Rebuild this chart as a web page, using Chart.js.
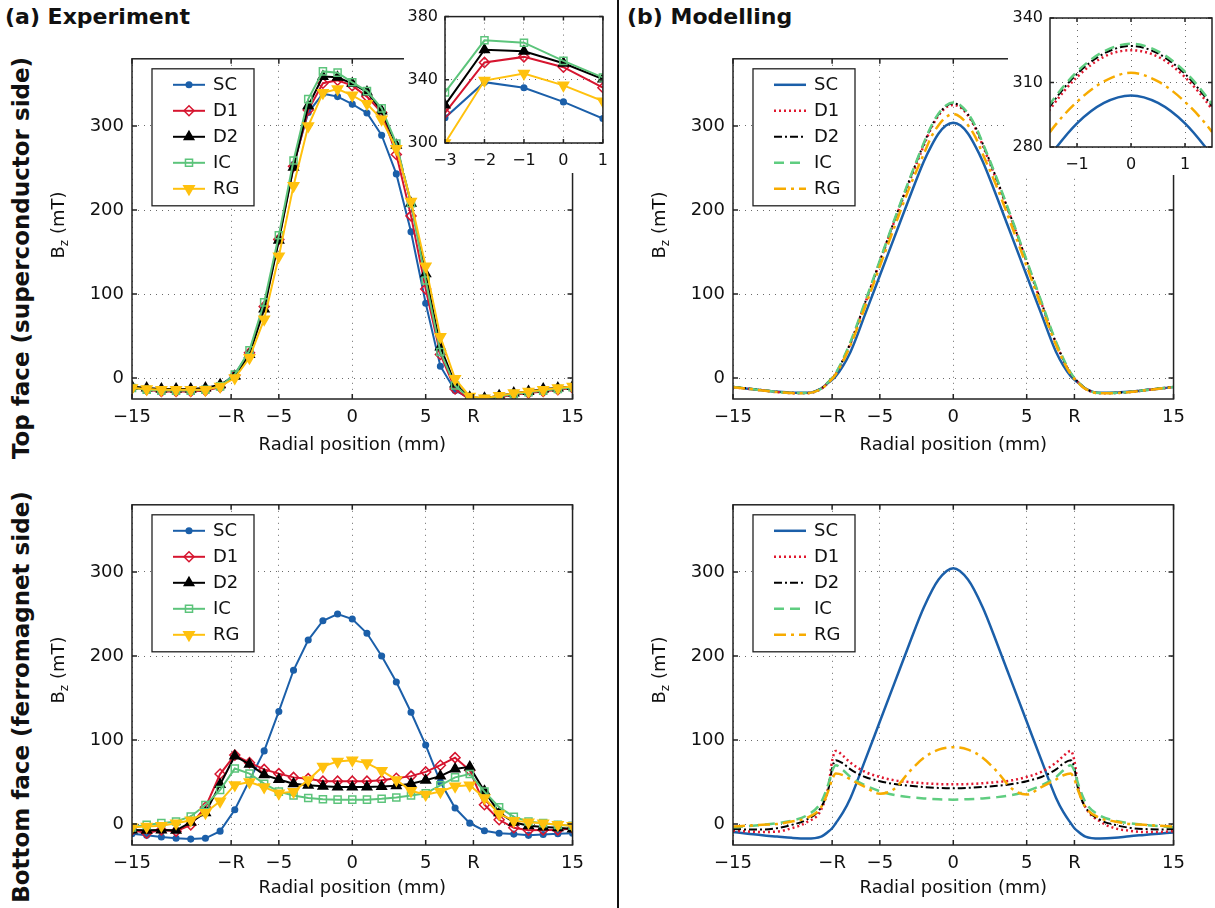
<!DOCTYPE html>
<html>
<head>
<meta charset="utf-8">
<title>Bz radial profiles</title>
<script src="https://cdn.jsdelivr.net/npm/chart.js@4.4.1/dist/chart.umd.min.js"></script>
<style>
  body { margin: 0; background: #fff; }
  #fig { position: relative; width: 1215px; height: 908px; overflow: hidden; background: #fff;
         font-family: "DejaVu Sans", Verdana, sans-serif; color: #111; }
  #fig canvas { position: absolute; }
  .lbl { position: absolute; white-space: nowrap; line-height: 1; }
  .rot { transform: translate(-50%, -50%) rotate(-90deg); }
  .ttl { font-weight: bold; font-size: 22px; }
  .row { font-size: 23px; }
  .bz { font-size: 18px; }
  .bz sub { font-size: 12px; vertical-align: -4px; }
  #divider { position: absolute; left: 617px; top: 0; width: 2px; height: 908px; background: #111; }
</style>
</head>
<body>
<div id="fig">
  <canvas id="expTop" width="530" height="430" style="left:62px;top:40px"></canvas>
  <canvas id="expBot" width="530" height="430" style="left:62px;top:486px"></canvas>
  <canvas id="modTop" width="530" height="430" style="left:663px;top:40px"></canvas>
  <canvas id="modBot" width="530" height="430" style="left:663px;top:486px"></canvas>
  <canvas id="expInset" width="212" height="173" style="left:404px;top:0px"></canvas>
  <canvas id="modInset" width="207" height="175" style="left:1008px;top:0px"></canvas>

  <div class="lbl ttl" style="left:5px;top:6px">(a) Experiment</div>
  <div class="lbl ttl" style="left:627px;top:6px">(b) Modelling</div>
  <div class="lbl ttl row rot" style="left:21px;top:258px">Top face (superconductor side)</div>
  <div class="lbl ttl row rot" style="left:21px;top:697px">Bottom face (ferromagnet side)</div>
  <div class="lbl bz rot" style="left:59px;top:225px">B<sub>z</sub> (mT)</div>
  <div class="lbl bz rot" style="left:59px;top:670px">B<sub>z</sub> (mT)</div>
  <div class="lbl bz rot" style="left:660px;top:225px">B<sub>z</sub> (mT)</div>
  <div class="lbl bz rot" style="left:660px;top:670px">B<sub>z</sub> (mT)</div>
  <div id="divider"></div>
</div>

<script>
Chart.defaults.font.family = '"DejaVu Sans", Verdana, sans-serif';
Chart.defaults.color = '#111';

// axes
const R = 8.25;
const radialTicks = [-15, -R, -5, 0, 5, R, 15];
const radialLabels = ['\u221215', '\u2212R', '\u22125', '0', '5', 'R', '15'];
const bzTicks = [0, 100, 200, 300];
const expZoomX = [-3, -2, -1, 0, 1];
const expZoomXLabels = ['\u22123', '\u22122', '\u22121', '0', '1'];
const expZoomY = [300, 340, 380];
const modZoomX = [-1, 0, 1];
const modZoomXLabels = ['\u22121', '0', '1'];
const modZoomY = [280, 310, 340];

const names = ['SC', 'D1', 'D2', 'IC', 'RG'];

// measured (1 mm steps)
const posExp = [-15, -14, -13, -12, -11, -10, -9, -8, -7, -6, -5, -4, -3, -2, -1, 0,
                1, 2, 3, 4, 5, 6, 7, 8, 9, 10, 11, 12, 13, 14, 15];

const expTopSC = [-11, -13, -14, -14, -15, -14, -10, 5, 30, 85, 166, 254, 316, 338.5, 335, 326,
                  315.5, 289, 243, 174, 89, 14, -15, -24, -25, -22, -19, -17, -15, -13, -11];
const expTopD1 = [-12, -14, -16, -16, -16, -15, -11, 3, 30, 85, 165, 252, 319, 351, 354.5, 348,
                  335, 316, 266, 193, 106, 28, -13, -26, -26, -23, -20, -18, -16, -14, -12];
const expTopD2 = [-10, -12, -13, -13, -13, -12, -8, 2, 28, 82, 164, 251, 324, 359, 358, 350.5,
                  340.5, 318, 277, 208, 124, 37, -7, -23, -24, -21, -18, -16, -13, -12, -10];
const expTopIC = [-12, -14, -15, -15, -15, -14, -10, 4, 33, 90, 170, 259, 332, 365, 363.5, 352,
                  341.5, 321, 279, 208, 116, 31, -9, -24, -25, -22, -19, -17, -15, -13, -11];
const expTopRG = [-12, -13, -14, -14, -14, -14, -10, 0, 24, 70, 145, 229, 300, 339.5, 344, 336.5,
                  326.5, 308, 273, 210, 133, 49, -1, -22, -24, -21, -18, -16, -14, -12, -10];

const expBotSC = [-11.5, -13.5, -15.5, -17, -18, -17, -8.5, 17, null, 87, 134, 183, 219, 242, 250, 244,
                  227, 200, 169, 133, 94, 50, 19, 1, -8, -11, -12, -13.5, -12.5, -11.5, -11];
const expBotD1 = [-7, -11, -7, -8.5, -1, 20, 59.5, 82, 73, 65, 60, 55.5, 54, 51, 51, 51,
                  51, 52, 54.5, 57, 62, 70, 79, 64, 23, 5, -4.5, -7.5, -7, -7, -5];
const expBotD2 = [-7, -7.5, -7, -7.5, 2, 13.5, 47, 81, 71, 58.5, 53, 48, 46, 45, 44, 44,
                  44, 44.5, 45.5, 48, 52, 57, 65.5, 68, 39, 13.5, 2, -2, -3.5, -4.5, -6];
const expBotIC = [-4, -1, 1, 3, 9, 22.5, 40.5, 66, 60, 48, 38.5, 34, 31, 29.5, 29, 29,
                  29, 30, 31.5, 34, 36.5, 46, 55.5, 59.5, 38.5, 20, 8.5, 3, 1, -1, -2];
const expBotRG = [-4, -3, -2, 1, 4.5, 13.5, 27, 46.5, 50, 44, 36.5, 38.5, 52.5, 68.5, 74.5, 76,
                  72.5, 63.5, 52.5, 39.5, 35, 38.5, 45, 46, 31, 12, 4, 2, 1, -1, -2];

// modelled, top face
const posModTop = [-15, -14, -13, -12, -11, -10, -9, -8.5, -8, -7, -6, -5, -4, -3, -2,
                   -1.5, -1, -0.5, 0, 0.5, 1, 1.5, 2, 3, 4, 5, 6, 7, 8, 8.5,
                   9, 10, 11, 12, 13, 14, 15];
const modTopSC = [-10.8, -12.7, -14.6, -16.3, -17.5, -17.7, -12.5, -5.5, 2, 31, 76, 122, 168, 214, 258,
                  276, 291, 300.5, 304, 300.5, 291, 276, 258, 214, 168, 122, 76, 31, 2, -5.5,
                  -12.5, -17.7, -17.5, -16.3, -14.6, -12.7, -10.8];
const modTopD1 = [-11, -12.7, -14.8, -16.8, -18, -18.2, -13, -5, 5, 41, 89, 138, 187, 233, 277,
                  297.5, 312.5, 322, 325, 322, 312.5, 297.5, 277, 233, 187, 138, 89, 41, 5, -5,
                  -13, -18.2, -18, -16.8, -14.8, -12.7, -11];
const modTopD2 = [-10.5, -12.3, -14.4, -16.4, -17.6, -17.8, -12.5, -4.5, 5.5, 42, 90, 139, 188, 235, 279,
                  299, 314, 323.5, 327, 323.5, 314, 299, 279, 235, 188, 139, 90, 42, 5.5, -4.5,
                  -12.5, -17.8, -17.6, -16.4, -14.4, -12.3, -10.5];
const modTopIC = [-10.8, -12.6, -14.6, -16.6, -17.8, -18, -12.8, -4.5, 6, 43, 91, 140, 189, 236, 280,
                  300, 315, 324.5, 328, 324.5, 315, 300, 280, 236, 189, 140, 91, 43, 6, -4.5,
                  -12.8, -18, -17.8, -16.6, -14.6, -12.6, -10.8];
const modTopRG = [-11, -12.8, -14.8, -16.8, -18, -18.2, -13, -5.5, 4.5, 39, 85, 133, 180, 226, 267,
                  287, 301, 310.5, 314.5, 310.5, 301, 287, 267, 226, 180, 133, 85, 39, 4.5, -5.5,
                  -13, -18.2, -18, -16.8, -14.8, -12.8, -11];

// modelled, bottom face
const posModBot = [-15, -14, -13, -12, -11, -10, -9, -8.5, -8.25, -8, -7.5, -7,
                   -6, -5, -4, -3, -2, -1, 0, 1, 2, 3, 4, 5, 6,
                   7, 7.5, 8, 8.25, 8.5, 9, 10, 11, 12, 13, 14, 15];
const modBotSC = [-9.6, -11.5, -13.5, -15, -16.5, -17.3, -15, -9, -5, 1, 14, 31,
                  76, 122, 168, 214, 258, 291, 304.5, 291, 258, 214, 168, 122, 76,
                  31, 14, 1, -5, -9, -15, -17.3, -16.5, -14.5, -13, -11.5, -10];
const modBotD1 = [-8, -9, -9.5, -9, -5, 2, 17, 45, 75, 87, 81, 73,
                  62, 56, 52, 50, 48.5, 47.5, 47.3, 47.5, 48.5, 50, 52, 56, 62,
                  73, 81, 87, 75, 45, 20, 3, -5, -8, -9.5, -9.5, -8.5];
const modBotD2 = [-6, -6.5, -6.5, -5, -1, 5, 20, 42, 66, 76, 72, 65,
                  56, 51, 47.5, 45.5, 44, 43, 42.5, 43, 44, 45.5, 47.5, 51, 56,
                  65, 72, 76, 66, 42, 20, 5, -1, -4.5, -6, -6.5, -6];
const modBotIC = [-4, -2.5, -1, 1, 4, 10, 26, 48, 63, 70, 64, 56,
                  46, 39, 34.5, 32, 30.5, 29.5, 29, 29.5, 30.5, 32, 34.5, 39, 46,
                  56, 64, 70, 63, 48, 26, 10, 4, 1, -1, -2.5, -4];
const modBotRG = [-3, -2, -1, 0, 3, 7, 20, 40, 53, 60, 58, 53,
                  44, 36, 42, 62, 79, 88.5, 91.5, 88.5, 79, 62, 42, 35, 44,
                  53, 58, 60, 53, 40, 20, 7, 3, 0, -1, -2, -3];

// ---- plugins ----
const whiteBg = {
  id: 'whiteBg',
  beforeDraw(chart) {
    const c = chart.ctx;
    c.save();
    c.fillStyle = '#fff';
    c.fillRect(0, 0, chart.width, chart.height);
    c.restore();
  }
};

// axes box with inward ticks, like the original figure
const frame = {
  id: 'frame',
  afterDraw(chart, args, opts) {
    const { ctx, chartArea: a } = chart;
    const x = chart.scales.x, y = chart.scales.y;
    const t = opts.tick || 5;
    ctx.save();
    ctx.strokeStyle = '#222';
    ctx.lineWidth = 1.5;
    ctx.beginPath();
    x.ticks.forEach(k => {
      const p = x.getPixelForValue(k.value);
      ctx.moveTo(p, a.bottom); ctx.lineTo(p, a.bottom - t);
      ctx.moveTo(p, a.top); ctx.lineTo(p, a.top + t);
    });
    y.ticks.forEach(k => {
      const p = y.getPixelForValue(k.value);
      ctx.moveTo(a.left, p); ctx.lineTo(a.left + t, p);
      ctx.moveTo(a.right, p); ctx.lineTo(a.right - t, p);
    });
    ctx.stroke();
    ctx.strokeRect(a.left, a.top, a.right - a.left, a.bottom - a.top);
    ctx.restore();
  }
};

// boxed legend: line sample + marker + name
const boxLegend = {
  id: 'boxLegend',
  afterDraw(chart) {
    const { ctx, chartArea: a } = chart;
    const bx = a.left + 20, by = a.top + 10, w = 102, h = 137;
    ctx.save();
    ctx.fillStyle = '#fff';
    ctx.fillRect(bx, by, w, h);
    ctx.strokeStyle = '#222';
    ctx.lineWidth = 1.3;
    ctx.strokeRect(bx, by, w, h);
    ctx.font = '18px "DejaVu Sans", Verdana, sans-serif';
    ctx.textBaseline = 'middle';
    ctx.textAlign = 'left';
    chart.data.datasets.forEach((ds, i) => {
      const yy = by + 16 + i * 26;
      ctx.save();
      ctx.strokeStyle = ds.borderColor;
      ctx.lineWidth = ds.borderWidth;
      ctx.setLineDash(ds.borderDash || []);
      ctx.beginPath();
      ctx.moveTo(bx + 21, yy);
      ctx.lineTo(bx + 53, yy);
      ctx.stroke();
      ctx.restore();
      if (ds.pointRadius > 0) {
        ctx.save();
        ctx.fillStyle = ds.pointBackgroundColor;
        ctx.strokeStyle = ds.pointBorderColor;
        ctx.lineWidth = ds.pointBorderWidth;
        Chart.helpers.drawPoint(ctx, {
          pointStyle: ds.pointStyle, radius: ds.pointRadius,
          rotation: ds.pointRotation || 0, borderWidth: ds.pointBorderWidth
        }, bx + 37, yy);
        ctx.restore();
      }
      ctx.fillStyle = '#111';
      ctx.fillText(ds.label, bx + 61, yy + 1);
    });
    ctx.restore();
  }
};

Chart.register(whiteBg, frame, boxLegend);

// ---- datasets ----
const expColors = ['#1b5fa9', '#d6152f', '#000000', '#5cc47b', '#ffc10e'];
const expMarks = [
  { style: 'circle', r: 2.8, hollow: false, rot: 0 },
  { style: 'rectRot', r: 5, hollow: true, rot: 0 },
  { style: 'triangle', r: 5.5, hollow: false, rot: 0 },
  { style: 'rect', r: 5, hollow: true, rot: 0 },
  { style: 'triangle', r: 6, hollow: false, rot: 180 }
];

function expSets(series) {
  return series.map((ys, i) => ({
    label: names[i],
    data: posExp.map((x, k) => ({ x: x, y: ys[k] })),
    borderColor: expColors[i],
    borderWidth: 2,
    pointStyle: expMarks[i].style,
    pointRadius: expMarks[i].r,
    pointRotation: expMarks[i].rot,
    pointBackgroundColor: expMarks[i].hollow ? 'rgba(255,255,255,0)' : expColors[i],
    pointBorderColor: expColors[i],
    pointBorderWidth: 1.5,
    tension: 0,
    spanGaps: true,
    order: 5 - i
  }));
}

const modColors = ['#1b5fa9', '#e0182f', '#000000', '#5fcd80', '#f7ab00'];
const modDash = [[], [2, 3], [8, 3, 2, 3], [10, 6], [12, 5, 3, 5]];
const modWidth = [2.5, 2.5, 2, 2.5, 2.5];

function modSets(xs, series) {
  return series.map((ys, i) => ({
    label: names[i],
    data: xs.map((x, k) => ({ x: x, y: ys[k] })),
    borderColor: modColors[i],
    borderWidth: modWidth[i],
    borderDash: modDash[i],
    pointRadius: 0,
    cubicInterpolationMode: 'monotone',
    order: 5 - i
  }));
}

// ---- chart builder ----
function build(id, o) {
  const grid = { color: '#6a6a6a', lineWidth: 1, drawTicks: false };
  const border = { display: false, dash: [1, 5] };
  return new Chart(document.getElementById(id), {
    type: 'line',
    data: { datasets: o.sets },
    options: {
      responsive: false,
      animation: false,
      events: [],
      layout: { padding: o.pad },
      plugins: {
        legend: { display: false },
        tooltip: { enabled: false },
        boxLegend: o.legend ? {} : false,
        frame: { tick: o.tick }
      },
      scales: {
        x: {
          type: 'linear', min: o.xr[0], max: o.xr[1],
          afterBuildTicks: s => { s.ticks = o.xt.map(v => ({ value: v })); },
          afterFit: s => { s.height = o.xh; },
          ticks: {
            autoSkip: false, maxRotation: 0, padding: o.xpad,
            font: { size: o.fs }, color: '#111',
            callback: v => o.xl[o.xt.findIndex(t => Math.abs(t - v) < 1e-6)]
          },
          grid: grid,
          border: border,
          title: {
            display: !!o.xtitle, text: o.xtitle || '',
            font: { size: 18 }, color: '#111',
            padding: { top: 0, bottom: o.tpad || 0 }
          }
        },
        y: {
          type: 'linear', min: o.yr[0], max: o.yr[1],
          afterBuildTicks: s => { s.ticks = o.yt.map(v => ({ value: v })); },
          afterFit: s => { s.width = o.yw; },
          ticks: {
            padding: o.ypad, font: { size: o.fs }, color: '#111',
            callback: v => String(v)
          },
          grid: grid,
          border: border
        }
      }
    }
  });
}

const mainTop = {
  pad: { top: 8, right: 15, bottom: 0, left: 0 }, tick: 5,
  xr: [-15, 15], xt: radialTicks, xl: radialLabels, xh: 71, xpad: 8,
  yr: [-25, 380], yt: bzTicks, yw: 70, ypad: 8, fs: 18,
  xtitle: 'Radial position (mm)', tpad: 14, legend: true
};
const mainBot = Object.assign({}, mainTop, { pad: { top: 9, right: 15, bottom: 0, left: 0 }, tpad: 17 });

build('expTop', Object.assign({}, mainTop, {
  sets: expSets([expTopSC, expTopD1, expTopD2, expTopIC, expTopRG])
}));
build('expBot', Object.assign({}, mainBot, {
  sets: expSets([expBotSC, expBotD1, expBotD2, expBotIC, expBotRG])
}));
build('modTop', Object.assign({}, mainTop, {
  sets: modSets(posModTop, [modTopSC, modTopD1, modTopD2, modTopIC, modTopRG])
}));
build('modBot', Object.assign({}, mainBot, {
  sets: modSets(posModBot, [modBotSC, modBotD1, modBotD2, modBotIC, modBotRG])
}));

build('expInset', {
  pad: { top: 15, right: 7, bottom: 0, left: 0 }, tick: 4,
  xr: [-3, 1], xt: expZoomX, xl: expZoomXLabels, xh: 30, xpad: 8,
  yr: [300, 380], yt: expZoomY, yw: 41, ypad: 7, fs: 16,
  sets: expSets([expTopSC, expTopD1, expTopD2, expTopIC, expTopRG])
});
build('modInset', {
  pad: { top: 18, right: 3, bottom: 0, left: 0 }, tick: 4,
  xr: [-1.5, 1.5], xt: modZoomX, xl: modZoomXLabels, xh: 28, xpad: 8,
  yr: [280, 340], yt: modZoomY, yw: 42, ypad: 7, fs: 16,
  sets: modSets(posModTop, [modTopSC, modTopD1, modTopD2, modTopIC, modTopRG])
});
</script>
</body>
</html>
